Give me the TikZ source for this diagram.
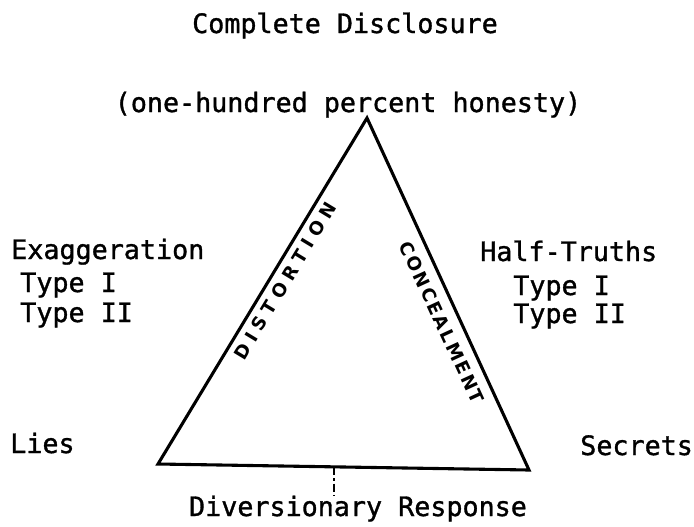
\documentclass[tikz,border=0pt]{standalone}
\usepackage{fontspec}
\setmonofont[FakeBold=1.2]{DejaVu Sans Mono}
\newfontfamily\distfont[LetterSpace=33]{DejaVu Sans}
\newfontfamily\concfont[LetterSpace=12]{DejaVu Sans}
\usepackage{tikz}

\begin{document}
\begin{tikzpicture}[x=0.025cm, y=-0.025cm,
    txt/.style={inner sep=0pt, font=\fontsize{19}{23}\selectfont\ttfamily},
    edgetxt/.style={sloped, below=#1, inner sep=0pt},
    tri/.style={line width=2.2pt}]
    \useasboundingbox (0,0) rectangle (694,526);

    \coordinate (top) at (367,118);
    \coordinate (l) at (158,464);
    \coordinate (r) at (529,470);
    \path (l) -- (r) coordinate[pos=0.474] (t);

    \node[txt, anchor=base] (cd) at (345,33) {Complete Disclosure};
    \node[txt, anchor=base] (hon) at (348,112) {(one-hundred percent honesty)};

    \node[txt, anchor=base west] (ex) at (11,259) {Exaggeration};
    \node[txt, anchor=base west] (ex1) at (20,292) {Type I};
    \node[txt, anchor=base west] (ex2) at (20,322) {Type II};

    \node[txt, anchor=base west] (ht) at (480,261) {Half-Truths};
    \node[txt, anchor=base west] (ht1) at (513,295) {Type I};
    \node[txt, anchor=base west] (ht2) at (513,323) {Type II};

    \node[txt, anchor=base west] (lies) at (10,453) {Lies};
    \node[txt, anchor=base west] (sec) at (580,455) {Secrets};
    \node[txt, anchor=base] (dr) at (358,516) {Diversionary Response};

    % the triangle with its two side labels
    \draw[tri] (l) -- (top)
        node[edgetxt=4.1pt, pos=0.55, font=\distfont\bfseries\fontsize{13}{15}\selectfont] (dis) {DISTORTION}
        -- (r)
        node[edgetxt=6.4pt, pos=0.56, font=\concfont\bfseries\fontsize{13}{15}\selectfont] (con) {CONCEALMENT}
        -- cycle;

    \draw[line width=1.3pt, dash pattern=on 6pt off 2pt on 2pt off 2pt] (t) -- (dr.north -| t);
\end{tikzpicture}
\end{document}
